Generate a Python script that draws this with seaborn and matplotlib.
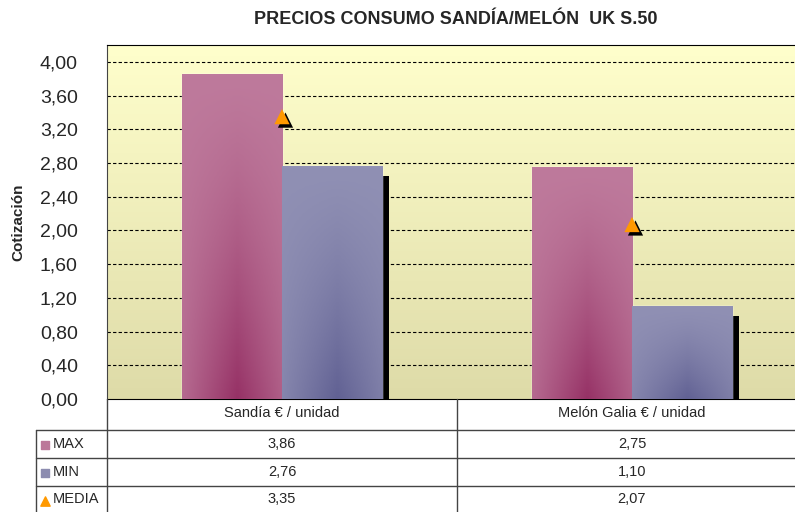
import numpy as np
import pandas as pd
import matplotlib
matplotlib.use('Agg')
import matplotlib.pyplot as plt
import matplotlib.patheffects as pe
from matplotlib.colors import LinearSegmentedColormap, to_rgb
import seaborn as sns

# datos
categorias = ['Sandía € / unidad', 'Melón Galia € / unidad']
series = ['MAX', 'MIN', 'MEDIA']
max_vals = [3.86, 2.75]
min_vals = [2.76, 1.10]
media_vals = [3.35, 2.07]
yticks = [0.0, 0.4, 0.8, 1.2, 1.6, 2.0, 2.4, 2.8, 3.2, 3.6, 4.0]

sns.set_style('white')
plt.rcParams['font.family'] = ['Liberation Sans', 'DejaVu Sans']

df = pd.DataFrame({
    'producto': categorias * 2,
    'valor': max_vals + min_vals,
    'serie': ['MAX'] * 2 + ['MIN'] * 2,
})

fig = plt.figure(figsize=(7.95, 5.12), dpi=100)
# el área de trazado sigue un poco más allá del borde derecho
ax = fig.add_axes([107 / 795, 1 - 399 / 512, (807 - 107) / 795, (399 - 45) / 512])

# fondo degradado
ymax = 4.2
bg = np.linspace(0, 1, 256).reshape(-1, 1)
bg_cmap = LinearSegmentedColormap.from_list('bg', ['#DEDBA8', '#FFFFCC'])
ax.imshow(bg, cmap=bg_cmap, extent=(-0.5, 1.5, 0, ymax), origin='lower',
          aspect='auto', zorder=0)

colores = {'MAX': '#BB7799', 'MIN': '#8C8CB0'}
sns.barplot(data=df, x='producto', y='valor', hue='serie', order=categorias,
            hue_order=['MAX', 'MIN'], palette=colores, width=0.572,
            saturation=1, legend=False, ax=ax, zorder=3)

# degradado en las barras + sombra (solo visible en MIN)
grad_cols = {
    'MAX': ('#BE7A9C', '#922A60'),
    'MIN': ('#9090B4', '#5C5C90'),
}
for i, patch in enumerate(ax.patches):
    serie = 'MAX' if i < 2 else 'MIN'
    c1, c2 = [np.array(to_rgb(c)) for c in grad_cols[serie]]
    x0, y0 = patch.get_x(), patch.get_y()
    w, h = patch.get_width(), patch.get_height()
    X, Y = np.meshgrid(np.linspace(0, 1, 60), np.linspace(0, 1, 60))
    t = np.clip((1 - Y) ** 1.3 * (1 - np.abs(X - 0.55) * 1.4), 0, 1) * 0.9
    img = c1[None, None, :] * (1 - t[..., None]) + c2[None, None, :] * t[..., None]
    im = ax.imshow(img, extent=(x0, x0 + w, y0, y0 + h), origin='lower',
                   aspect='auto', zorder=3.5)
    im.set_clip_path(patch)
    if serie == 'MIN':
        patch.set_path_effects([pe.SimplePatchShadow(offset=(5, -7), shadow_rgbFace='black',
                                                     alpha=1.0), pe.Normal()])

# media (triángulos)
sns.scatterplot(x=[0, 1], y=media_vals, marker='^', s=120, color='#FF9900',
                edgecolor='#FF9900', linewidth=0, ax=ax, zorder=5, legend=False)
ax.collections[-1].set_path_effects([pe.withSimplePatchShadow(offset=(2.5, -2.5),
                                                              shadow_rgbFace='black', alpha=1)])

ax.set_xlim(-0.5, 1.5)
ax.set_ylim(0, ymax)
ax.set_yticks(yticks)
ax.set_yticklabels([f'{v:.2f}'.replace('.', ',') for v in yticks], fontsize=14)
ax.set_xticks([])
ax.set_xlabel('')
ax.set_ylabel('Cotización', fontsize=11, fontweight='bold')
ax.yaxis.set_label_coords(-(107 - 25) / 700, 0.5)
ax.tick_params(axis='y', direction='out', length=7, width=1, color='#555555', pad=14)
for yv in yticks[1:]:
    ax.axhline(yv, color='black', linestyle=(0, (3, 2)), linewidth=0.8, zorder=1)
ax.spines['left'].set_color('#444444')
ax.spines['top'].set_color('black')
ax.spines['right'].set_visible(False)
ax.spines['bottom'].set_color('black')
ax.spines['bottom'].set_linestyle((0, (3, 1)))

fig.text(456 / 795, 1 - 19 / 512, 'PRECIOS CONSUMO SANDÍA/MELÓN  UK S.50',
         ha='center', va='center', fontsize=13, fontweight='bold')

# tabla de datos
tab = fig.add_axes([0, 0, 1, 1], facecolor='none')
tab.set_xlim(0, 795)
tab.set_ylim(512, 0)
tab.axis('off')
lc = '#444444'
tab.plot([107, 107], [399, 512], color=lc, lw=1)
tab.plot([457, 457], [399, 512], color=lc, lw=1)
tab.plot([36, 36], [430, 512], color=lc, lw=1)
for yl in [430, 458, 486]:
    tab.plot([36, 795], [yl, yl], color=lc, lw=1)

col_x = [282, 632]
for cx, cat in zip(col_x, categorias):
    tab.text(cx, 413, cat, ha='center', va='center', fontsize=10.5)

filas = [max_vals, min_vals, media_vals]
row_y = [444, 472, 499]
fmt = lambda v: f'{v:.2f}'.replace('.', ',')
for ry, serie, vals in zip(row_y, series, filas):
    for cx, v in zip(col_x, vals):
        tab.text(cx, ry, fmt(v), ha='center', va='center', fontsize=10.5)
    tab.text(53, ry, serie, ha='left', va='center', fontsize=10.5)

tab.scatter([45], [445], marker='s', s=30, color=colores['MAX'])
tab.scatter([45], [473], marker='s', s=30, color=colores['MIN'])
tab.scatter([45], [501], marker='^', s=45, color='#FF9900')

fig.savefig('out.png', dpi=100)
